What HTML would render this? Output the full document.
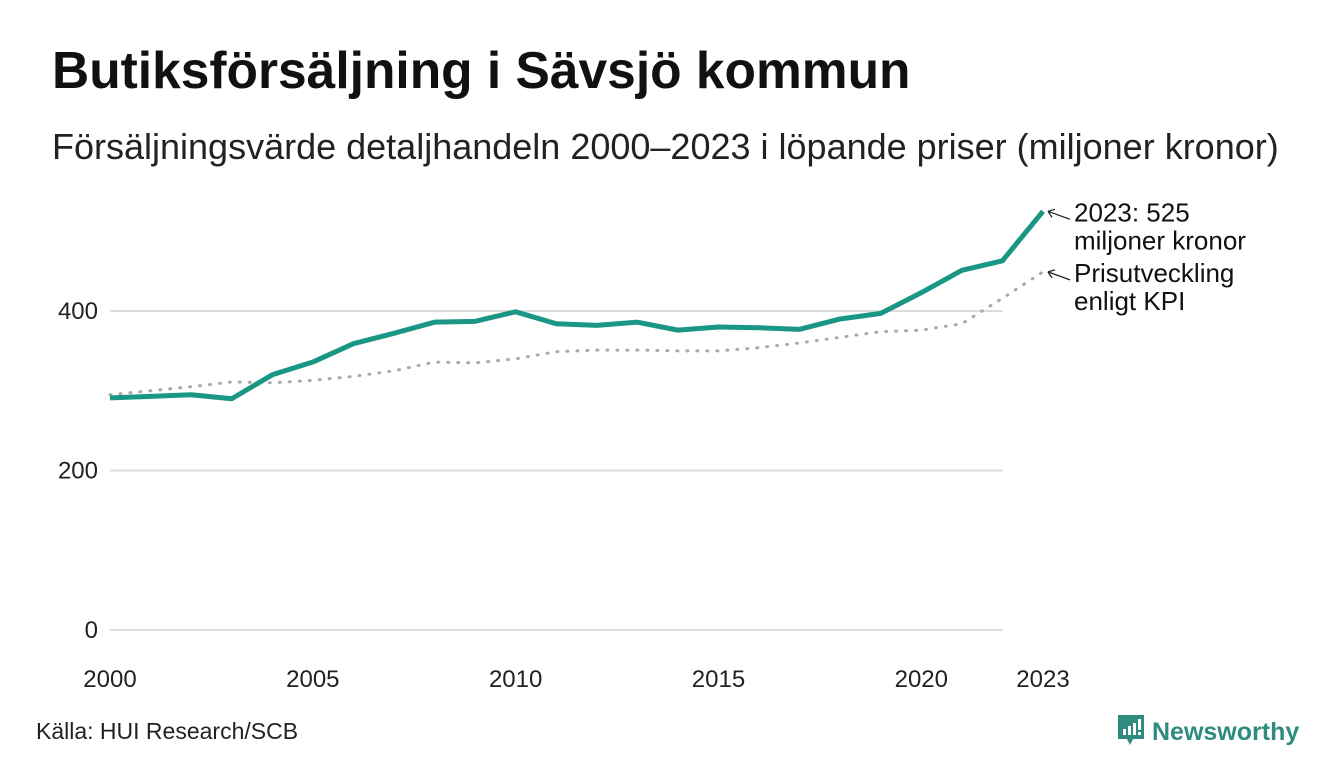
<!DOCTYPE html>
<html><head><meta charset="utf-8"><style>
body{margin:0;width:1340px;height:780px;background:#fff;font-family:"Liberation Sans",sans-serif;overflow:hidden;position:relative}
.t{position:absolute;white-space:nowrap}
</style></head><body>
<div class="t" style="left:52px;top:40px;font-size:51.5px;font-weight:bold;color:#111">Butiksförsäljning i Sävsjö kommun</div>
<div class="t" style="left:52px;top:126px;font-size:36px;color:#222">Försäljningsvärde detaljhandeln 2000–2023 i löpande priser (miljoner kronor)</div>
<svg id="chart" width="1340" height="780" style="position:absolute;left:0;top:0"></svg>
<div class="t" style="left:36px;top:718px;font-size:23px;color:#222">Källa: HUI Research/SCB</div>
<div class="t" style="left:1116px;top:713px;font-size:25px;font-weight:bold;color:#2e8b7e">
<svg width="30" height="36" viewBox="0 0 30 36" style="vertical-align:-9px;margin-right:6px"><path d="M2 2h26v24H17l-3 6-3-6H2z" fill="#2e8b7e"/><rect x="7" y="16" width="3" height="6" fill="#fff"/><rect x="12" y="13" width="3" height="9" fill="#fff"/><rect x="17" y="10" width="3" height="12" fill="#fff"/><rect x="22" y="6" width="3" height="11" fill="#fff"/><rect x="22" y="19" width="3" height="3" fill="#fff"/></svg>Newsworthy</div>
<script>
const years=[2000,2001,2002,2003,2004,2005,2006,2007,2008,2009,2010,2011,2012,2013,2014,2015,2016,2017,2018,2019,2020,2021,2022,2023];
const sales=[291,293,295,290,320,336,359,372,386,387,399,384,382,386,376,380,379,377,390,397,423,451,463,525];
const kpi=[295,300,305,311,310,313,318,325,336,335,340,349,351,351,350,350,354,360,367,374,376,384,416,449];
const yTicks=[0,200,400];
const xTicks=[2000,2005,2010,2015,2020,2023];
const NS="http://www.w3.org/2000/svg";
const svg=document.getElementById('chart');
const x=v=>110+(v-2000)*(1043-110)/23;
const y=v=>630-v*(630-311)/400;
function mk(t,a){const e=document.createElementNS(NS,t);for(const k in a)e.setAttribute(k,a[k]);svg.appendChild(e);return e;}
yTicks.forEach(v=>{
 const l=mk('line',{x1:110,x2:1003,y1:y(v),y2:y(v),stroke:'#ddd','stroke-width':2});
 
 
 const t=mk('text',{x:98,y:y(v)+8,'text-anchor':'end','font-size':24,fill:'#222','font-family':'Liberation Sans, sans-serif'});
 t.textContent=v;
 
 
});
xTicks.forEach(v=>{
 const t=mk('text',{x:x(v),y:687,'text-anchor':'middle','font-size':24,fill:'#222','font-family':'Liberation Sans, sans-serif'});
 t.textContent=v;
 
 
});
const kp=mk('polyline',{points:years.map((yr,i)=>x(yr)+','+y(kpi[i])).join(' '),fill:'none',stroke:'#aaa','stroke-width':3,'stroke-dasharray':'1 9','stroke-linecap':'round'});


const sl=mk('polyline',{points:years.map((yr,i)=>x(yr)+','+y(sales[i])).join(' '),fill:'none',stroke:'#1a9685','stroke-width':5,'stroke-linejoin':'round'});


function ann(yv,lines,name){
 const x0=x(2023)+5,y0=y(yv);
 const g=mk('g',{});
 
 
 const a=document.createElementNS(NS,'path');
 a.setAttribute('d',`M${x0+22} ${y0+8}L${x0} ${y0} M${x0} ${y0}l7 -2 M${x0} ${y0}l4 6`);
 a.setAttribute('stroke','#222');a.setAttribute('fill','none');a.setAttribute('stroke-width',1.3);
 g.appendChild(a);
 lines.forEach((s,i)=>{const t=document.createElementNS(NS,'text');
  t.setAttribute('x',x0+26);t.setAttribute('y',y0+10+i*28);t.setAttribute('font-size',26);t.setAttribute('fill','#111');
  t.setAttribute('font-family','Liberation Sans, sans-serif');t.textContent=s;g.appendChild(t);});
}
ann(sales[23],['2023: '+sales[23],'miljoner kronor'],'sales-annotation');
ann(kpi[23],['Prisutveckling','enligt KPI'],'kpi-annotation');
</script>
</body></html>
